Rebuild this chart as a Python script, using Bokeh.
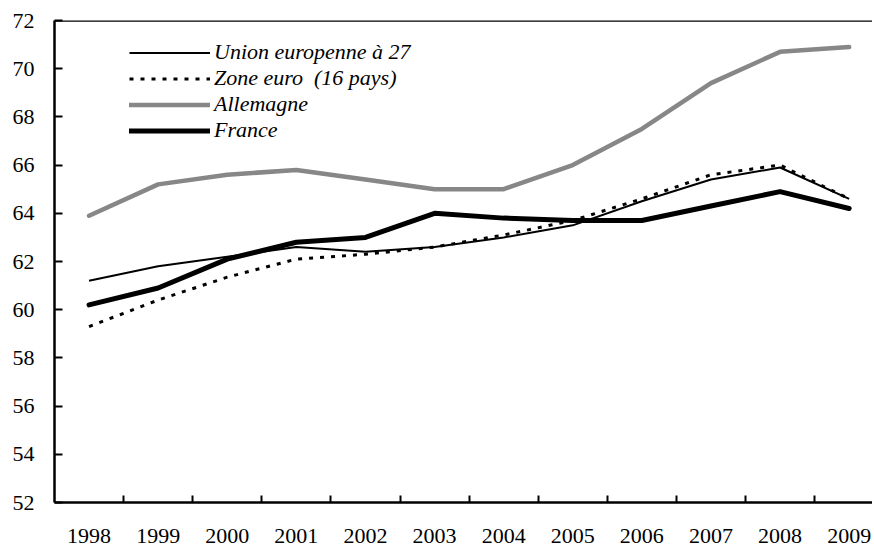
from bokeh.plotting import figure
from bokeh.models import FixedTicker, Span, Legend, LegendItem, Range1d
from bokeh.embed import file_html
from bokeh.resources import INLINE

years = [1998, 1999, 2000, 2001, 2002, 2003, 2004, 2005, 2006, 2007, 2008, 2009]
ue27 = [61.2, 61.8, 62.2, 62.6, 62.4, 62.6, 63.0, 63.5, 64.5, 65.4, 65.9, 64.6]
zone_euro = [59.3, 60.4, 61.35, 62.1, 62.3, 62.6, 63.1, 63.7, 64.6, 65.6, 66.0, 64.6]
allemagne = [63.9, 65.2, 65.6, 65.8, 65.4, 65.0, 65.0, 66.0, 67.5, 69.4, 70.7, 70.9]
france = [60.2, 60.9, 62.1, 62.8, 63.0, 64.0, 63.8, 63.7, 63.7, 64.3, 64.9, 64.2]
y_ticks = [52, 54, 56, 58, 60, 62, 64, 66, 68, 70, 72]
labels = ["Union europenne à 27", "Zone euro  (16 pays)", "Allemagne", "France"]

FONT = "Liberation Serif"

p = figure(width=872, height=546, output_backend="svg", toolbar_location=None,
           x_range=Range1d(1997.5, 1997.5 + 818 / 69.1), y_range=Range1d(52, 72),
           min_border_left=54, min_border_right=0, min_border_top=20,
           min_border_bottom=44)
p.outline_line_color = None
p.grid.visible = False
p.background_fill_color = "white"
p.border_fill_color = "white"

# x axis
xa = p.xaxis[0]
xa.ticker = FixedTicker(ticks=years, minor_ticks=[y + 0.5 for y in years[:-1]])
xa.major_label_overrides = {y: str(y) for y in years}
xa.major_tick_in = 0
xa.major_tick_out = 0
xa.minor_tick_in = 7
xa.minor_tick_out = 0
xa.minor_tick_line_width = 2
xa.minor_tick_line_color = "black"
xa.axis_line_width = 2.5
xa.axis_line_color = "black"
xa.major_label_standoff = 26
xa.major_label_text_line_height = 0.7
xa.major_label_text_font = FONT
xa.major_label_text_font_size = "22px"
xa.major_label_text_color = "black"

# y axis
ya = p.yaxis[0]
ya.ticker = FixedTicker(ticks=y_ticks)
ya.major_tick_in = 8
ya.major_tick_out = 0
ya.minor_tick_in = 0
ya.minor_tick_out = 0
ya.major_tick_line_width = 2
ya.major_tick_line_color = "black"
ya.axis_line_width = 2.5
ya.axis_line_color = "black"
ya.major_label_standoff = 20
ya.major_label_text_font = FONT
ya.major_label_text_font_size = "22px"
ya.major_label_text_color = "black"

# top border line
p.add_layout(Span(location=72, dimension="width", line_color="black", line_width=2.5))

r1 = p.line(years, ue27, line_color="black", line_width=2, line_join="round")
r2 = p.line(years, zone_euro, line_color="black", line_width=3, line_dash="4 7")
r3 = p.line(years, allemagne, line_color="#878787", line_width=4.5,
            line_join="round", line_cap="round")
r4 = p.line(years, france, line_color="black", line_width=5,
            line_join="round", line_cap="round")

legend = Legend(items=[LegendItem(label=labels[0], renderers=[r1]),
                       LegendItem(label=labels[1], renderers=[r2]),
                       LegendItem(label=labels[2], renderers=[r3]),
                       LegendItem(label=labels[3], renderers=[r4])],
                location=(75, 359))
legend.label_text_font = FONT
legend.label_text_font_style = "italic"
legend.label_text_font_size = "22px"
legend.label_text_color = "black"
legend.glyph_width = 81
legend.glyph_height = 25
legend.label_height = 25
legend.spacing = 0
legend.padding = 0
legend.margin = 0
legend.label_standoff = 4
legend.border_line_color = None
legend.background_fill_alpha = 0
p.add_layout(legend)

open("out.html", "w").write(file_html(p, INLINE))
